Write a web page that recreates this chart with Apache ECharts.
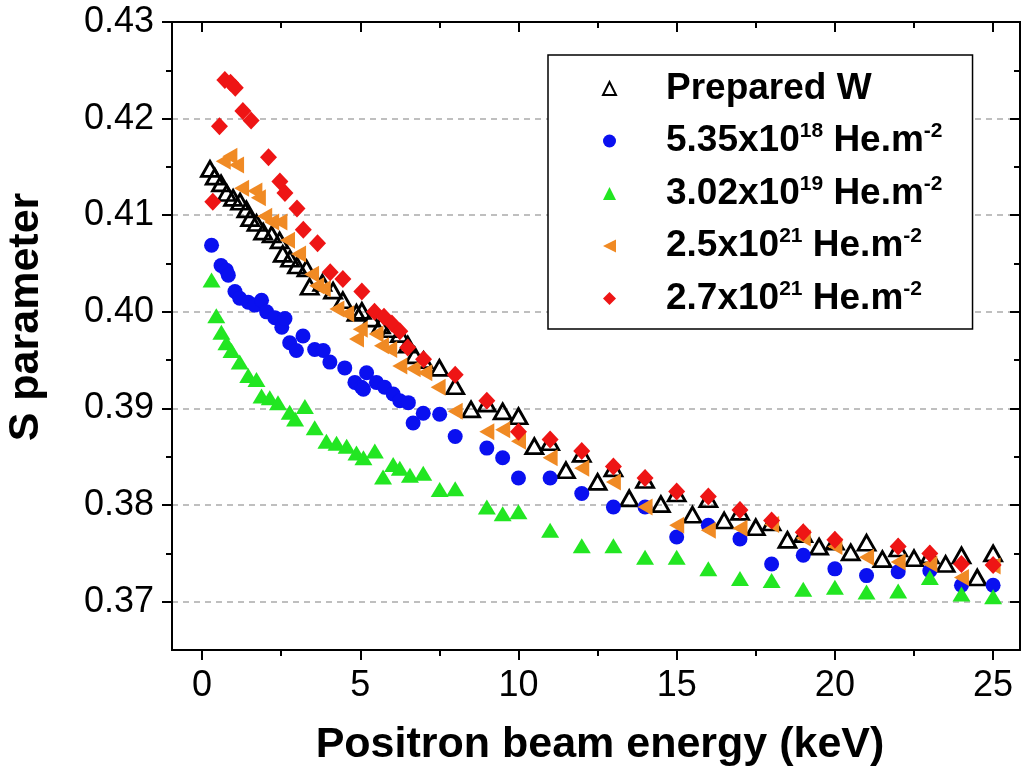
<!DOCTYPE html>
<html>
<head>
<meta charset="utf-8">
<script src="https://cdn.jsdelivr.net/npm/echarts@6/dist/echarts.min.js"></script>
<style>
  html, body { margin: 0; padding: 0; background: #fff; }
  #main { width: 1024px; height: 782px; }
</style>
</head>
<body>
<div id="main"></div>
<script>
// Prepared W
var prepE = [0.25, 0.4, 0.6, 0.78, 0.98, 1.2, 1.4, 1.52, 1.72, 1.93, 2.2, 2.45, 2.55, 2.78, 3.0, 3.3, 3.4, 3.8, 4.14, 4.45,
  4.88, 5.05, 5.35, 5.65, 5.95, 6.25, 6.5, 6.72, 7.0, 7.5, 8, 8.5, 9, 9.5, 10, 10.5, 11, 11.5, 12, 12.5,
  13, 13.5, 14, 14.5, 15, 15.5, 16, 16.5, 17, 17.5, 18, 18.5, 19, 19.5, 20, 20.5, 21, 21.5, 22, 22.5,
  23, 23.5, 24, 24.5, 25];
var prepS = [0.4148, 0.4140, 0.4133, 0.4123, 0.4118, 0.4114, 0.4106, 0.4097, 0.4092, 0.4083, 0.4080, 0.4074, 0.4060, 0.4055, 0.4048, 0.4045, 0.4026, 0.4030, 0.4022, 0.4012,
  0.3999, 0.4001, 0.3993, 0.3986, 0.3982, 0.3977, 0.3966, 0.3955, 0.3950, 0.3942, 0.3923, 0.3899, 0.3905, 0.3897, 0.3892, 0.3861, 0.3865, 0.3836, 0.3853, 0.3824,
  0.3838, 0.3807, 0.3826, 0.3801, 0.3812, 0.3790, 0.3806, 0.3784, 0.3793, 0.3777, 0.3782, 0.3764, 0.3770, 0.3757, 0.3762, 0.3751, 0.3761, 0.3744, 0.3755, 0.3745,
  0.3748, 0.3739, 0.3748, 0.3725, 0.3750];

// 5.35x10^18 He.m^-2
var blueE = [0.3, 0.6, 0.77, 0.83, 1.04, 1.19, 1.46, 1.67, 1.88, 2.04, 2.3, 2.52, 2.62, 2.77, 2.98, 3.19, 3.56, 3.83, 4.04, 4.51,
  4.83, 5.04, 5.1, 5.2, 5.51, 5.77, 6.04, 6.25, 6.52, 6.67, 6.99, 7.51, 8, 9, 9.5, 10, 11, 12, 13, 14,
  15, 16, 17, 18, 19, 20, 21, 22, 23, 24, 25];
var blueS = [0.4069, 0.4048, 0.4043, 0.4038, 0.4021, 0.4014, 0.4010, 0.4007, 0.4012, 0.4000, 0.3994, 0.3984, 0.3993, 0.3968, 0.3960, 0.3975, 0.3961, 0.3960, 0.3948, 0.3942,
  0.3927, 0.3922, 0.3920, 0.3937, 0.3927, 0.3922, 0.3915, 0.3908, 0.3906, 0.3885, 0.3895, 0.3894, 0.3871, 0.3859, 0.3849, 0.3828, 0.3828, 0.3812, 0.3798, 0.3798,
  0.3767, 0.3779, 0.3765, 0.3739, 0.3748, 0.3734, 0.3727, 0.3731, 0.3732, 0.3717, 0.3717];

// 3.02x10^19 He.m^-2
var greenE = [0.3, 0.45, 0.61, 0.77, 0.93, 1.19, 1.46, 1.72, 1.88, 2.14, 2.4, 2.77, 2.94, 3.25, 3.56, 3.93, 4.25, 4.57, 4.88, 5.1,
  5.46, 5.72, 6.04, 6.25, 6.57, 6.99, 7.51, 8, 9, 9.5, 10, 11, 12, 13, 14, 15, 16, 17, 18, 19,
  20, 21, 22, 23, 24, 25];
var greenS = [0.4033, 0.3996, 0.3979, 0.3968, 0.3960, 0.3948, 0.3934, 0.3930, 0.3913, 0.3911, 0.3906, 0.3896, 0.3889, 0.3902, 0.3880, 0.3866, 0.3864, 0.3861, 0.3854, 0.3849,
  0.3856, 0.3829, 0.3842, 0.3838, 0.3831, 0.3833, 0.3816, 0.3817, 0.3798, 0.3791, 0.3793, 0.3774, 0.3758, 0.3758, 0.3746, 0.3746, 0.3734, 0.3724, 0.3722, 0.3713,
  0.3715, 0.3710, 0.3711, 0.3725, 0.3708, 0.3705];

// 2.5x10^21 He.m^-2
var orangeE = [0.67, 0.88, 1.09, 1.25, 1.67, 1.78, 1.98, 2.2, 2.46, 2.7, 3.05, 3.46, 3.62, 3.83, 4.26, 4.57, 4.88, 5.0, 5.5, 5.67,
  5.93, 6.25, 6.67, 7.04, 7.46, 8, 9, 9.5, 10, 11, 12, 13, 14, 15, 16, 17, 18, 19, 20, 21,
  22, 23, 24, 25];
var orangeS = [0.4156, 0.4161, 0.4152, 0.4128, 0.4125, 0.4118, 0.4099, 0.4093, 0.4093, 0.4074, 0.4060, 0.4039, 0.4027, 0.4024, 0.4003, 0.3998, 0.3972, 0.3982, 0.3977, 0.3965,
  0.3961, 0.3944, 0.3941, 0.3937, 0.3922, 0.3897, 0.3876, 0.3878, 0.3866, 0.3849, 0.3838, 0.3824, 0.3798, 0.3779, 0.3774, 0.3776, 0.3780, 0.3766, 0.3757, 0.3746,
  0.3741, 0.3739, 0.3725, 0.3737];

// 2.7x10^21 He.m^-2
var redE = [0.34, 0.55, 0.72, 0.9, 1.05, 1.29, 1.55, 2.1, 2.46, 2.62, 3.0, 3.2, 3.65, 4.05, 4.45, 5.05, 5.45, 5.75, 6.0, 6.25,
  6.5, 7.0, 8, 9, 10, 11, 12, 13, 14, 15, 16, 17, 18, 19, 20, 22, 23, 24, 25];
var redS = [0.4114, 0.4192, 0.4240, 0.4237, 0.4232, 0.4208, 0.4198, 0.4160, 0.4135, 0.4123, 0.4107, 0.4085, 0.4071, 0.4041, 0.4034, 0.4021, 0.4000, 0.3995, 0.3988, 0.3980,
  0.3963, 0.3951, 0.3935, 0.3908, 0.3876, 0.3868, 0.3856, 0.3840, 0.3828, 0.3814, 0.3809, 0.3795, 0.3784, 0.3772, 0.3764, 0.3757, 0.3750, 0.3739, 0.3738];

// ticks
var xMajor = [0, 5, 10, 15, 20, 25];
var xMinor = [2.5, 7.5, 12.5, 17.5, 22.5];
var yMajor = [0.37, 0.38, 0.39, 0.40, 0.41, 0.42, 0.43];
var yMinor = [0.375, 0.385, 0.395, 0.405, 0.415, 0.425];

var names = ["Prepared W", "5.35x10^18 He.m^-2", "3.02x10^19 He.m^-2", "2.5x10^21 He.m^-2", "2.7x10^21 He.m^-2"];
var legendRich = {
  "Prepared W": "{g| }{n|Prepared W}",
  "5.35x10^18 He.m^-2": "{g| }{n|5.35x10}{s|18}{n| He.m}{s|-2}",
  "3.02x10^19 He.m^-2": "{g| }{n|3.02x10}{s|19}{n| He.m}{s|-2}",
  "2.5x10^21 He.m^-2": "{g| }{n|2.5x10}{s|21}{n| He.m}{s|-2}",
  "2.7x10^21 He.m^-2": "{g| }{n|2.7x10}{s|21}{n| He.m}{s|-2}",
};

var FONT = "'Liberation Sans', Arial, sans-serif";
// left-pointing triangle
var LEFT_TRI = "path://M0,50 L100,0 L100,100 Z";

function pairs(xs, ys) {
  return xs.map(function (x, i) { return [x, ys[i]]; });
}

function xAx(pos, vals, len, inside, extra) {
  var a = {
    type: "value", position: pos, min: -0.95, max: 25.85,
    axisLine: { show: true, onZero: false, lineStyle: { color: "#000", width: 2 } },
    axisTick: { show: true, inside: inside, length: len, customValues: vals, lineStyle: { color: "#000", width: 2 } },
    axisLabel: { show: false },
    splitLine: { show: false },
  };
  return Object.assign(a, extra || {});
}

function yAx(pos, vals, len, inside, extra) {
  var a = {
    type: "value", position: pos, min: 0.365, max: 0.43,
    axisLine: { show: true, onZero: false, lineStyle: { color: "#000", width: 2 } },
    axisTick: { show: true, inside: inside, length: len, customValues: vals, lineStyle: { color: "#000", width: 2 } },
    axisLabel: { show: false },
    splitLine: { show: false },
  };
  return Object.assign(a, extra || {});
}

var chart = echarts.init(document.getElementById("main"));

var option = {
  backgroundColor: "#fff",
  animation: false,
  textStyle: { fontFamily: FONT },
  grid: { left: 172, right: 4, top: 22, bottom: 132, containLabel: false, outerBoundsMode: "none" },
  xAxis: [
    xAx("bottom", xMajor, 10, false, {
      name: "Positron beam energy (keV)",
      nameLocation: "middle",
      nameGap: 74,
      nameTextStyle: { fontSize: 43, fontWeight: "bold", color: "#000", fontFamily: FONT, padding: [0, 0, 0, 8] },
      axisLabel: { show: true, customValues: xMajor, fontSize: 36, color: "#000", margin: 18, fontFamily: FONT },
    }),
    xAx("bottom", xMinor, 6, false),
    xAx("top", xMajor, 10, true),
    xAx("top", xMinor, 6, true),
  ],
  yAxis: [
    yAx("left", yMajor, 10, false, {
      name: "S parameter",
      nameLocation: "middle",
      nameGap: 124,
      nameRotate: 90,
      nameTextStyle: { fontSize: 43, fontWeight: "bold", color: "#000", fontFamily: FONT, padding: [0, 0, 0, 38] },
      axisLabel: {
        show: true, customValues: yMajor, fontSize: 36, color: "#000", margin: 18, fontFamily: FONT,
        formatter: function (v) { return v.toFixed(2); },
      },
      splitLine: { show: true, lineStyle: { color: "#aaa", width: 1.5, type: [6, 5] } },
    }),
    yAx("left", yMinor, 6, false),
    yAx("right", yMajor, 10, true),
    yAx("right", yMinor, 6, true),
  ],
  legend: {
    data: names,
    orient: "vertical",
    left: 548,
    top: 55,
    padding: [15, 30, 12, 54],
    itemGap: 14,
    itemWidth: 13,
    itemHeight: 13,
    borderColor: "#000",
    borderWidth: 1.5,
    backgroundColor: "#fff",
    formatter: function (name) { return legendRich[name]; },
    textStyle: {
      color: "#000",
      fontFamily: FONT,
      rich: {
        g: { width: 45, fontSize: 37, lineHeight: 40 },
        n: { fontSize: 37, fontWeight: "bold", color: "#000", lineHeight: 40, fontFamily: FONT },
        s: { fontSize: 21, fontWeight: "bold", color: "#000", lineHeight: 18, verticalAlign: "top", fontFamily: FONT },
      },
    },
  },
  series: [
    {
      name: names[0], type: "scatter", data: pairs(prepE, prepS),
      symbol: "triangle", symbolSize: [17, 15],
      itemStyle: { color: "rgba(255,255,255,0)", borderColor: "#000", borderWidth: 2.8, opacity: 1 },
    },
    {
      name: names[1], type: "scatter", data: pairs(blueE, blueS),
      symbol: "circle", symbolSize: 15,
      itemStyle: { color: "#0a10f0", opacity: 1 },
    },
    {
      name: names[2], type: "scatter", data: pairs(greenE, greenS),
      symbol: "triangle", symbolSize: [18, 15],
      itemStyle: { color: "#22e622", opacity: 1 },
    },
    {
      name: names[3], type: "scatter", data: pairs(orangeE, orangeS),
      symbol: LEFT_TRI, symbolSize: [15, 17],
      itemStyle: { color: "#f08a24", opacity: 1 },
    },
    {
      name: names[4], type: "scatter", data: pairs(redE, redS),
      symbol: "diamond", symbolSize: [17, 18],
      itemStyle: { color: "#ee1515", opacity: 1 },
    },
  ],
};

chart.setOption(option);
</script>
</body>
</html>
